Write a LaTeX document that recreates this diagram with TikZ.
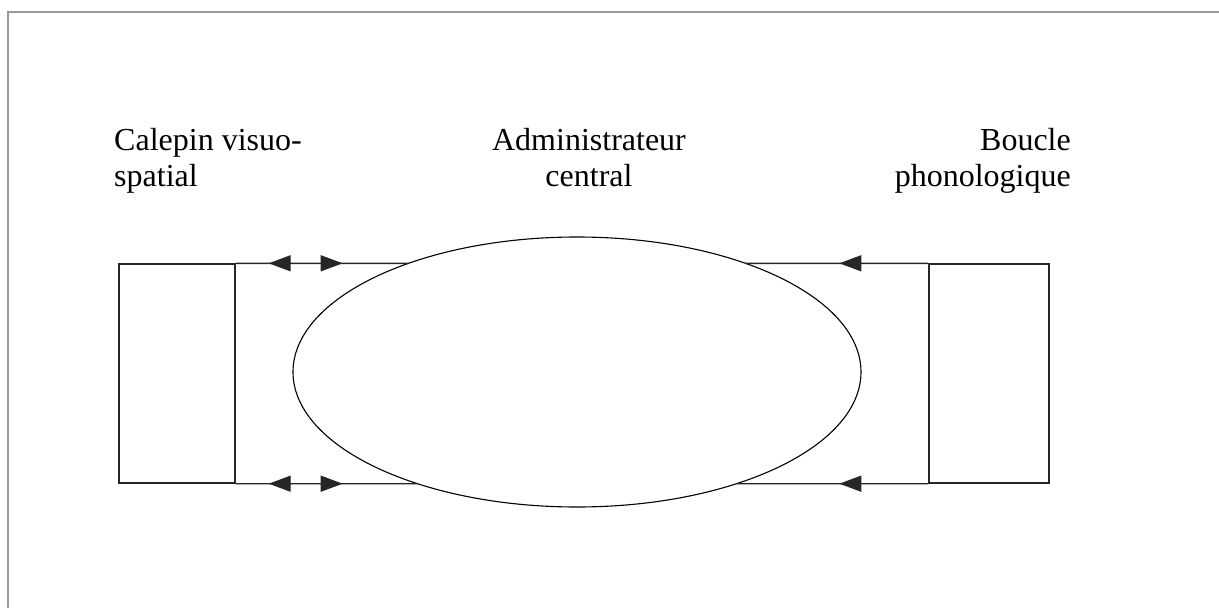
\documentclass[tikz,border=0pt]{standalone}
\usepackage{fontspec}
\setmainfont{Liberation Serif}
\usetikzlibrary{arrows.meta,decorations.markings,intersections,shapes.geometric}
\begin{document}
\begin{tikzpicture}[x=1pt,y=-1pt,
  frame/.style={draw=black!40,line width=2pt},
  box/.style={draw=black!85,line width=1.4pt,rectangle,inner sep=0pt},
  ell/.style={draw=black,line width=1.1pt,ellipse,inner sep=0pt},
  link/.style={draw=black!85,line width=1.4pt},
  lbl/.style={inner sep=0pt,font=\fontsize{32}{36}\selectfont}
]
\useasboundingbox (0,0) rectangle (1219,608);
\draw[frame] (8,608) -- (8,12) -- (1219,12);

\node[box,minimum width=116pt,minimum height=219pt] (L) at (177,373.5) {};
\node[box,minimum width=120pt,minimum height=219pt] (R) at (989,373.5) {};
\node[ell,minimum width=568pt,minimum height=270pt,name path=ellp] (E) at (577,372) {};

\path[name path=topl] (L.north west) -- (R.north east);
\path[name path=botl] (L.south west) -- (R.south east);
\path[name intersections={of=ellp and topl,name=t,sort by=topl}];
\path[name intersections={of=ellp and botl,name=b,sort by=botl}];

\draw[link,postaction={decorate},decoration={markings,
   mark=at position 33pt with {\arrowreversed{Triangle[length=22pt,width=16pt]}},
   mark=at position 107pt with {\arrow{Triangle[length=22pt,width=16pt]}}}]
   (L.north east) -- (t-1);
\draw[link,postaction={decorate},decoration={markings,
   mark=at position 33pt with {\arrowreversed{Triangle[length=22pt,width=16pt]}},
   mark=at position 107pt with {\arrow{Triangle[length=22pt,width=16pt]}}}]
   (L.south east) -- (b-1);
\draw[link,postaction={decorate},decoration={markings,
   mark=at position 89pt with {\arrow{Triangle[length=22pt,width=16pt]}}}]
   (R.north west) -- (t-2);
\draw[link,postaction={decorate},decoration={markings,
   mark=at position 89pt with {\arrow{Triangle[length=22pt,width=16pt]}}}]
   (R.south west) -- (b-2);

\node[lbl,align=left,anchor=north west] (cal) at (114,128) {Calepin visuo-\\spatial};
\node[lbl,align=center,anchor=north] (adm) at (589,128) {Administrateur\\central};
\node[lbl,align=right,anchor=north east] (bou) at (1071,128) {Boucle\\phonologique};
\end{tikzpicture}
\end{document}
